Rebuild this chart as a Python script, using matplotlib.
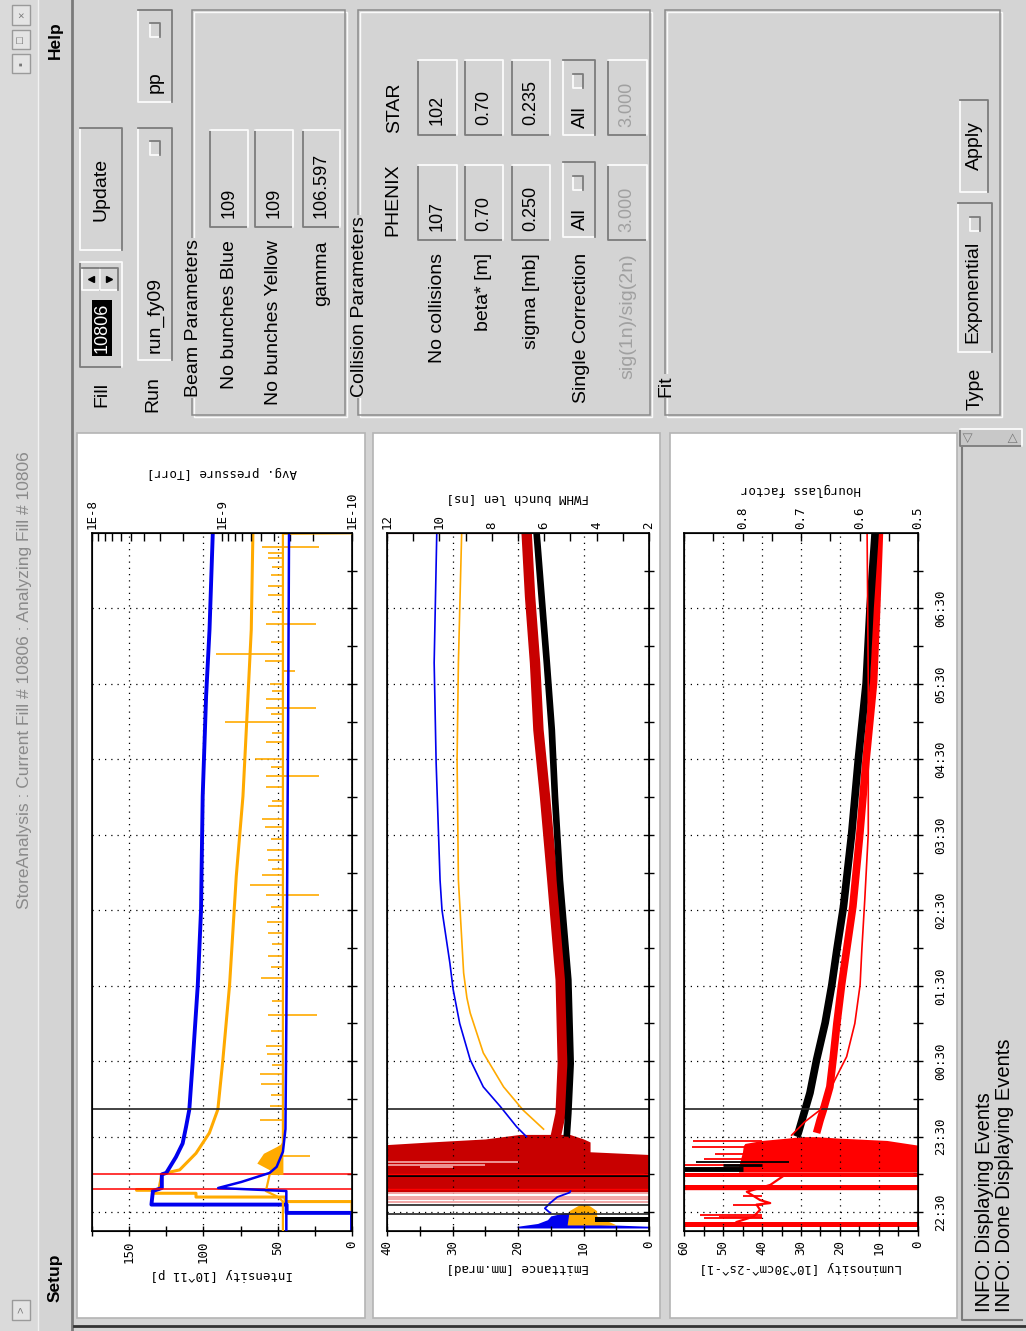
import numpy as np
import matplotlib
matplotlib.use("Agg")
import matplotlib.pyplot as plt
from matplotlib.patches import Rectangle
from matplotlib.ticker import (MultipleLocator, FixedLocator, FixedFormatter,
                               NullFormatter, LogLocator)

plt.rcParams['font.family'] = ['DejaVu Sans Mono']
GUI = ['Liberation Sans', 'DejaVu Sans']

# ---------------- data ----------------
# time in hours after 22:00, axis runs 22:15 .. 07:30
t_lim = [0.25, 9.5]
time_ticks = [0.5, 1.5, 2.5, 3.5, 4.5, 5.5, 6.5, 7.5, 8.5]
time_minor = [1, 2, 3, 4, 5, 6, 7, 8, 9]
time_labels = ['22:30', '23:30', '00:30', '01:30', '02:30', '03:30', '04:30', '05:30', '06:30']

black_marker = [1.87]
red_marker = [0.80, 1.01]
p2_black_marker = [0.475, 0.595]

# panel 1: intensity [10^11 p] and pressure [Torr]
blue_int_t = [0.25, 0.49, 0.49, 0.60, 0.60, 0.78, 0.82, 1.00, 1.02, 1.23, 1.41, 1.63, 1.86, 2.50, 3.51, 4.51, 4.95, 6.01, 7.34, 8.22, 9.50]
blue_int = [0, 0, 44, 44, 135, 134, 128, 128, 125, 118.5, 114, 111.7, 109.5, 107.2, 103.8, 101.6, 101.3, 100.5, 98.2, 95.9, 93.7]
orange_int_t = [0.25, 0.64, 0.64, 0.70, 0.70, 0.75, 0.75, 0.79, 0.79, 0.80, 0.80, 1.00, 1.02, 1.06, 1.28, 1.55, 1.86, 2.50, 3.51, 4.95, 6.01, 7.34, 8.22, 9.50]
orange_int = [0, 0, 45, 45, 105, 105, 133, 133, 145, 145, 130, 128, 125, 116, 105, 96, 90.3, 87, 82.4, 77.9, 73.4, 70, 67.8, 66.7]

blue_p_t = [0.25, 0.78, 0.82, 0.90, 1.02, 1.10, 1.30, 1.60, 3.00, 5.00, 7.00, 9.50]
blue_p = [3.2e-10, 3.2e-10, 1.07e-9, 7.1e-10, 4.3e-10, 3.8e-10, 3.4e-10, 3.25e-10, 3.2e-10, 3.15e-10, 3.1e-10, 3.05e-10]
orange_p_t = [0.25, 0.64, 0.70, 0.78, 0.85, 1.00, 1.42, 3.00, 6.00, 9.49, 9.50]
orange_p = [3.4e-10, 3.4e-10, 3.7e-10, 4.6e-10, 4.5e-10, 4.3e-10, 3.4e-10, 3.4e-10, 3.4e-10, 3.4e-10, 6e-11]
orange_p_base = 3.4e-10
orange_blob_t = [1.00, 1.06, 1.15, 1.28, 1.37, 1.42]
orange_blob_p = [4.3e-10, 4.3e-10, 5.4e-10, 4.8e-10, 3.8e-10, 3.4e-10]
orange_spike_t = [9.32, 9.32, 9.24, 9.17, 9.05, 8.95, 8.80, 8.68, 8.45, 8.30, 8.30, 8.05, 7.90, 7.80,
                  7.67, 7.50, 7.40, 7.30, 7.18, 7.18, 7.10, 7.00, 6.85, 6.73, 6.51, 6.40, 6.28, 6.28,
                  6.14, 5.95, 5.88, 5.71, 5.60, 5.45, 5.30, 5.17, 5.05, 4.97, 4.84, 4.70, 4.70, 4.55,
                  4.35, 4.20, 4.05, 3.90, 3.75, 3.60, 3.30, 3.11, 3.11, 2.90, 2.70, 2.60, 2.45, 2.33,
                  2.20, 2.05, 1.90, 1.72, 1.24]
orange_spike_p = [4.95e-10, 1.8e-10, 4.4e-10, 4.4e-10, 4.1e-10, 4.2e-10, 4.4e-10, 4.4e-10, 4.1e-10, 4.6e-10, 1.9e-10, 4.2e-10, 1.12e-9, 4.7e-10,
                  2.75e-10, 4.3e-10, 4.1e-10, 4.6e-10, 4.6e-10, 1.9e-10, 4.2e-10, 9.5e-10, 4.1e-10, 4.6e-10, 5.6e-10, 4.2e-10, 4.6e-10, 1.78e-10,
                  4.6e-10, 4.1e-10, 4.4e-10, 4.95e-10, 4.7e-10, 4.2e-10, 4.5e-10, 4.4e-10, 4.1e-10, 4.95e-10, 6.1e-10, 4.6e-10, 1.78e-10, 4.2e-10,
                  4.5e-10, 4.4e-10, 4.1e-10, 4.4e-10, 4.2e-10, 5.0e-10, 4.1e-10, 4.4e-10, 1.86e-10, 4.2e-10, 4.6e-10, 4.5e-10, 4.1e-10, 5.1e-10,
                  5.0e-10, 4.2e-10, 4.3e-10, 5.1e-10, 2.1e-10]
p_ticks = [1e-8, 1e-9, 1e-10]
p_labels = ['1E-8', '1E-9', '1E-10']

# panel 2: emittance [mm.mrad] and FWHM bunch length [ns]
blue_emit_t = [1.50, 1.63, 1.90, 2.16, 2.52, 3.00, 3.45, 3.80, 4.50, 4.90, 6.46, 7.78, 9.50]
blue_emit = [18.7, 20.2, 22.7, 25.3, 27.3, 28.9, 29.9, 30.4, 31.6, 31.9, 32.5, 32.8, 32.4]
orange_emit_t = [1.60, 1.85, 2.16, 2.61, 3.14, 3.34, 3.67, 4.90, 6.50, 7.78, 9.50]
orange_emit = [16.1, 19.2, 22.2, 25.3, 27.3, 27.8, 28.3, 29.1, 29.3, 29.1, 28.6]
blue_emit_inj_t = [0.49, 0.55, 0.62, 0.70, 0.76, 0.78]
blue_emit_inj = [15.1, 15.9, 15.1, 14.0, 12.1, 12.0]
fwhm_t = [1.50, 1.81, 2.47, 3.58, 4.90, 6.01, 6.89, 7.78, 8.66, 9.50]
black_fwhm = [5.14, 5.08, 4.99, 5.08, 5.40, 5.59, 5.71, 5.90, 6.10, 6.29]
red_fwhm = [5.56, 5.37, 5.29, 5.37, 5.69, 5.97, 6.22, 6.35, 6.54, 6.67]
red_fwhm_tail_t = [9.5, 9.5]
red_fwhm_tail = [6.9, 12.5]

inj2_red_t = [0.77, 1.26, 1.30, 1.39, 1.43, 1.47, 1.53]
inj2_red_hi = [41, 41, 41, 41, 33.4, 25, 19.7]
inj2_red_lo = [-1, -1, 9, 9, 9, 10, 12.1]
inj2_light_t = [1.17, 1.12, 1.10, 0.75, 0.70, 0.68, 0.63]
inj2_light_hi = [41, 41, 35, 41, 41, 41, 41]
inj2_light_lo = [20, 25, 30, -1, -1, -1, -1]
inj2_black_t = [0.97, 1.01]
blue_blk_t = [0.29, 0.31, 0.35, 0.40, 0.45, 0.49]
blue_blk_hi = [19.8, 20.3, 17, 15.5, 15, 13]
blue_blk_lo = [-1, -1, 12, 12, 12, 12]
orange_blk_t = [0.33, 0.45, 0.52, 0.58, 0.60]
orange_blk_hi = [12.5, 12.3, 12.2, 11, 10.5]
orange_blk_lo = [5, 8, 8, 9, 9.5]
black_blk_t = [0.37, 0.43]
black_blk_hi = [8.3, 8.3]

# panel 3: luminosity [10^30 cm^-2 s^-1] and hourglass factor
black_lumi_t = [1.50, 1.55, 1.85, 2.08, 2.52, 3.01, 3.51, 3.98, 4.55, 5.52, 6.50, 7.51, 8.51, 9.50]
black_lumi = [31.1, 30.7, 29.0, 27.7, 26.0, 23.8, 22.1, 20.8, 19.1, 17.0, 15.3, 13.3, 12.3, 11.0]
red_lumi_t = [1.55, 1.72, 1.85, 2.16, 2.56, 3.00, 3.51, 3.98, 4.55, 5.52, 6.50, 7.51, 8.51, 9.50]
red_lumi = [26.0, 25.1, 24.3, 22.6, 21.7, 20.8, 19.6, 18.3, 16.7, 14.9, 13.3, 11.4, 10.6, 9.9]
hg_red_t = [1.52, 1.70, 1.85, 2.08, 2.30, 2.56, 3.00, 3.51, 3.98, 4.64, 5.52, 6.50, 7.51, 9.50]
hg_red = [0.716, 0.693, 0.668, 0.653, 0.639, 0.622, 0.608, 0.599, 0.596, 0.591, 0.585, 0.585, 0.585, 0.587]

inj3_red_t = [1.03, 1.10, 1.20, 1.30, 1.38, 1.41, 1.45, 1.48, 1.50]
inj3_red_hi = [46, 46, 45.5, 45, 44.8, 44.4, 40, 33.7, 30]
inj3_red_lo = [-1, -1, -1, -1, -1, 2.9, 8, 20, 26]
inj3_spike_t = [1.44, 1.36, 1.27, 1.20, 1.12, 1.08, 0.72, 0.60, 0.46, 0.43, 0.42]
inj3_spike = [57.6, 58, 52, 55, 60.5, 52, 45, 47.5, 56, 51, 55]
inj3_bar_lo = [0.97, 0.79, 0.30]
inj3_bar_hi = [1.02, 0.86, 0.37]
inj3_curve_t = [0.37, 0.44, 0.53, 0.60, 0.62, 0.66, 0.77, 0.86, 0.98]
inj3_curve = [46.5, 42.2, 40.5, 41.4, 37.9, 40.5, 43.9, 37.9, 34.5]
inj3_black_t = [1.07, 1.16, 1.13]
inj3_black_hi = [61, 57, 50]
inj3_black_lo = [44.9, 33, 40]

# GUI contents
title = 'StoreAnalysis : Current Fill # 10806 : Analyzing Fill # 10806'
fill_no = '10806'
run_name = 'run_fy09'
species = 'pp'
beam_labels = ['No bunches Blue', 'No bunches Yellow', 'gamma']
beam_values = ['109', '109', '106.597']
experiments = ['PHENIX', 'STAR']
coll_labels = ['No collisions', 'beta* [m]', 'sigma [mb]']
phenix_values = ['107', '0.70', '0.250']
star_values = ['102', '0.70', '0.235']
corr_values = ['All', 'All']
sig_ratio = ['3.000', '3.000']
fit_type = 'Exponential'
log_lines = ['INFO: Displaying Events', 'INFO: Done Displaying Events']

BLUE = '#0000ee'
ORANGE = '#ffaa00'
RED = '#ff0000'
DRED = '#c80000'
GRAY = '#d4d4d4'

W, H = 1026, 1331


def frac(x0, y0, x1, y1):
    return [x0 / W, 1 - y1 / H, (x1 - x0) / W, (y1 - y0) / H]


fig = plt.figure(figsize=(W / 100, H / 100), dpi=100)
bg = fig.add_axes([0, 0, 1, 1])
bg.set_xlim(0, W)
bg.set_ylim(H, 0)
bg.axis('off')
bg.add_patch(Rectangle((0, 0), W, H, facecolor=GRAY, edgecolor='none'))


def vtext(x, y, s, va='center', size=14, color='k', weight='normal', **kw):
    bg.text(x, y, s, rotation=90, ha='center', va=va, fontsize=size, color=color,
            fontweight=weight, family=GUI, **kw)


def bevel(x0, y0, x1, y1, sunken=True, face=GRAY):
    bg.add_patch(Rectangle((x0, y0), x1 - x0, y1 - y0, facecolor=face, edgecolor='none'))
    dark, light = ('#7c7c7c', '#fbfbfb') if sunken else ('#fbfbfb', '#7c7c7c')
    bg.plot([x0, x0, x1], [y0, y1, y1], color=dark, lw=1.3)
    bg.plot([x0, x1, x1], [y0, y0, y1], color=light, lw=1.3)


def indicator(x, y):
    bevel(x - 5, y - 7, x + 5, y + 7, sunken=False)


def frame(x0, y0, x1, y1, label, ly):
    bg.add_patch(Rectangle((x0 + 1.5, y0 + 1.5), x1 - x0, y1 - y0, fill=False, edgecolor='#fafafa', lw=1))
    bg.add_patch(Rectangle((x0, y0), x1 - x0, y1 - y0, fill=False, edgecolor='#8c8c8c', lw=1.1))
    vtext(x0 + 1, ly, label, va='bottom', bbox=dict(facecolor=GRAY, edgecolor='none', pad=1))


# title bar and menu
bg.add_patch(Rectangle((0, 0), 38, H, facecolor='#dadada', edgecolor='none'))
bg.plot([38, 38], [0, H], color='#f2f2f2', lw=1)
bg.plot([72, 72], [0, H], color='#7a7a7a', lw=2)
vtext(25, 680, title, size=12.5, color='#8a8a8a')
for (y0, y1), sym in zip([(5, 25), (30, 49), (54, 73), (1300, 1320)], ['×', '□', '▪', '>']):
    bg.add_patch(Rectangle((12, y0), 18, y1 - y0, facecolor='#e4e4e4', edgecolor='#9a9a9a', lw=1))
    vtext(21, (y0 + y1) / 2, sym, size=8, color='#777777')
vtext(55, 1278, 'Setup', size=12.5, weight='bold')
vtext(55, 40, 'Help', size=12.5, weight='bold')

# fill / run row
vtext(102, 407, 'Fill', va='bottom')
bevel(80, 262, 122, 367)
bg.add_patch(Rectangle((92, 300), 20, 56, facecolor='black', edgecolor='none'))
vtext(102, 328, fill_no, color='white', size=13)
bevel(82, 268, 100, 290, sunken=False)
bevel(100, 268, 118, 290, sunken=False)
bg.plot([91], [279], marker='<', color='k', ms=5)
bg.plot([109], [279], marker='>', color='k', ms=5)
bevel(80, 128, 122, 250, sunken=False)
vtext(101, 189, 'Update')
vtext(153, 412, 'Run', va='bottom')
bevel(138, 128, 172, 360, sunken=False)
vtext(155, 353, run_name, va='bottom')
indicator(155, 148)
bevel(138, 10, 172, 102, sunken=False)
vtext(155, 93, species, va='bottom')
indicator(155, 30)

# beam parameters
frame(192, 10, 345, 415, 'Beam Parameters', 397)
for (x0, x1), lab, val in zip([(210, 248), (255, 293), (303, 340)], beam_labels, beam_values):
    xc = (x0 + x1) / 2
    vtext(xc, 240, lab, va='top')
    bevel(x0, 130, x1, 227)
    vtext(xc, 218, val, va='bottom', size=13)

# collision parameters
frame(358, 10, 650, 415, 'Collision Parameters', 397)
vtext(393, 200, experiments[0])
vtext(395, 108, experiments[1])
for (x0, x1), lab, pv, sv in zip([(418, 457), (465, 503), (512, 550)], coll_labels, phenix_values, star_values):
    xc = (x0 + x1) / 2
    vtext(xc, 253, lab, va='top')
    bevel(x0, 165, x1, 240)
    vtext(xc, 231, pv, va='bottom', size=13)
    bevel(x0, 60, x1, 135)
    vtext(xc, 125, sv, va='bottom', size=13)
vtext(581, 253, 'Single Correction', va='top')
for (y0, y1), val in zip([(162, 237), (60, 135)], corr_values):
    bevel(563, y0, 595, y1, sunken=False)
    vtext(580, y1 - 7, val, va='bottom')
    indicator(578, y0 + 21)
vtext(628, 253, 'sig(1n)/sig(2n)', va='top', color='#a0a0a0')
for (y0, y1), val in zip([(165, 240), (60, 135)], sig_ratio):
    bevel(608, y0, 647, y1)
    vtext(627, y1 - 8, val, va='bottom', size=13, color='#a0a0a0')

# fit
frame(665, 10, 1000, 415, 'Fit', 397)
vtext(975, 410, 'Type', va='bottom')
bevel(958, 203, 992, 352, sunken=False)
vtext(973, 343, fit_type, va='bottom')
indicator(975, 224)
bevel(960, 100, 988, 192, sunken=False)
vtext(974, 146, 'Apply')

# log window
bevel(960, 429, 1022, 446, face='#c8c8c8')
vtext(968, 437, '◁', size=9, color='#777777')
vtext(1013, 437, '▷', size=9, color='#777777')
bg.add_patch(Rectangle((962, 448), 60, 872, facecolor=GRAY, edgecolor='none'))
bg.plot([962, 962, 1022], [448, 1320, 1320], color='#7c7c7c', lw=1.5)
for x, line in zip([985, 1004], log_lines):
    vtext(x, 1312, line, va='bottom', size=14.5)
bg.plot([74, W], [1326, 1326], color='#333333', lw=2)

# white plot pads
for x0, x1 in [(77, 365), (373, 660), (670, 957)]:
    bg.add_patch(Rectangle((x0, 433), x1 - x0, 885, facecolor='white', edgecolor='#b4b4b4', lw=1.2))


def time_axis(ax, labels):
    ax.set_ylim(*t_lim)
    ax.yaxis.tick_right()
    ax.yaxis.set_major_locator(FixedLocator(time_ticks))
    ax.yaxis.set_minor_locator(FixedLocator(time_minor))
    if labels:
        ax.yaxis.set_major_formatter(FixedFormatter(time_labels))
    else:
        ax.yaxis.set_major_formatter(NullFormatter())
    ax.tick_params(axis='y', which='both', direction='inout', length=7, width=1,
                   labelsize=9, pad=8, labelrotation=90)
    plt.setp(ax.get_yticklabels(), va='center')
    ax.grid(True, which='major', color='k', lw=0.9, ls=(0, (1, 4)))
    for sp in ax.spines.values():
        sp.set_linewidth(1.2)


def value_axis(ax, lim, major, minor, label, ly):
    ax.set_xlim(*lim)
    ax.xaxis.set_major_locator(MultipleLocator(major))
    ax.xaxis.set_minor_locator(MultipleLocator(minor))
    ax.tick_params(axis='x', which='both', direction='inout', length=7, width=1,
                   labelsize=9, pad=3, labelrotation=90)
    ax.set_xlabel(label, rotation=180, fontsize=9)
    ax.xaxis.set_label_coords(0.5, ly)
    ax.xaxis.label.set_va('center')


def top_axis(ax, label, ly):
    ax.tick_params(axis='x', which='both', direction='in', length=6, width=1,
                   labelsize=9, pad=3, labelrotation=90)
    ax.set_xlabel(label, rotation=180, fontsize=9)
    ax.xaxis.set_label_coords(0.5, ly)
    ax.xaxis.label.set_va('center')


# ---- panel 1: intensity / pressure ----
ax1 = fig.add_axes(frac(92, 533, 352, 1231))
value_axis(ax1, (175, 0), 50, 25, 'Intensity [10^11 p]', -0.063)
time_axis(ax1, False)
ax1.plot(orange_int, orange_int_t, color=ORANGE, lw=2.2)
ax1.plot(blue_int, blue_int_t, color=BLUE, lw=2.8)
for t in red_marker:
    ax1.axhline(t, color=RED, lw=1.1)
for t in black_marker:
    ax1.axhline(t, color='#222222', lw=1.2)

ax1p = ax1.twiny()
ax1p.set_xscale('log')
ax1p.set_xlim(1e-8, 1e-10)
ax1p.xaxis.set_major_locator(FixedLocator(p_ticks))
ax1p.xaxis.set_major_formatter(FixedFormatter(p_labels))
ax1p.xaxis.set_minor_locator(LogLocator(base=10, subs=np.arange(2, 10), numticks=20))
ax1p.xaxis.set_minor_formatter(NullFormatter())
top_axis(ax1p, 'Avg. pressure [Torr]', 1.086)
ax1p.fill_betweenx(orange_blob_t, orange_p_base, orange_blob_p, color=ORANGE, lw=0)
ax1p.hlines(orange_spike_t, orange_p_base, orange_spike_p, color=ORANGE, lw=1.2)
ax1p.plot(orange_p, orange_p_t, color=ORANGE, lw=1.6)
ax1p.plot(blue_p, blue_p_t, color=BLUE, lw=1.8)

# ---- panel 2: emittance / bunch length ----
ax2 = fig.add_axes(frac(387, 533, 649, 1231))
value_axis(ax2, (40, 0), 10, 5, 'Emittance [mm.mrad]', -0.053)
time_axis(ax2, False)
ax2.fill_betweenx(inj2_red_t, inj2_red_lo, inj2_red_hi, color=DRED, lw=0)
ax2.hlines(inj2_light_t, inj2_light_lo, inj2_light_hi, color='#f0a0a0', lw=1.3)
ax2.fill_betweenx(inj2_black_t, -1, 41, color='black', lw=0)
ax2.fill_betweenx(blue_blk_t, blue_blk_lo, blue_blk_hi, color=BLUE, lw=0)
ax2.fill_betweenx(orange_blk_t, orange_blk_lo, orange_blk_hi, color=ORANGE, lw=0)
ax2.fill_betweenx(black_blk_t, -1, black_blk_hi, color='black', lw=0)
ax2.plot(blue_emit_inj, blue_emit_inj_t, color=BLUE, lw=1.3)
ax2.plot(orange_emit, orange_emit_t, color=ORANGE, lw=1.2)
ax2.plot(blue_emit, blue_emit_t, color=BLUE, lw=1.2)
for t in red_marker:
    ax2.axhline(t, color=RED, lw=1.0)
for t in black_marker + p2_black_marker:
    ax2.axhline(t, color='#222222', lw=1.2)

ax2f = ax2.twiny()
ax2f.set_xlim(12, 2)
ax2f.xaxis.set_major_locator(MultipleLocator(2))
ax2f.xaxis.set_minor_locator(MultipleLocator(1))
top_axis(ax2f, 'FWHM bunch len [ns]', 1.05)
ax2f.plot(red_fwhm, fwhm_t, color=DRED, lw=7.5, solid_capstyle='butt')
ax2f.plot(black_fwhm, fwhm_t, color='black', lw=4.8, solid_capstyle='butt')
ax2f.plot(red_fwhm_tail, red_fwhm_tail_t, color=RED, lw=1.5)

# ---- panel 3: luminosity / hourglass ----
ax3 = fig.add_axes(frac(684, 533, 918, 1231))
value_axis(ax3, (60, 0), 10, 5, 'Luminosity [10^30cm^-2s^-1]', -0.053)
time_axis(ax3, True)
ax3.fill_betweenx(inj3_red_t, inj3_red_lo, inj3_red_hi, color=RED, lw=0)
for lo, hi in zip(inj3_bar_lo, inj3_bar_hi):
    ax3.axhspan(lo, hi, color=RED, lw=0)
ax3.hlines(inj3_spike_t, 40, inj3_spike, color=RED, lw=1.3)
ax3.plot(inj3_curve, inj3_curve_t, color=RED, lw=1.6)
ax3.plot(red_lumi, red_lumi_t, color=RED, lw=5.5, solid_capstyle='butt')
ax3.plot(black_lumi, black_lumi_t, color='black', lw=5.5, solid_capstyle='butt')
for t, lo, hi, w in zip(inj3_black_t, inj3_black_lo, inj3_black_hi, [3.5, 1.3, 2.0]):
    ax3.hlines(t, lo, hi, color='black', lw=w)
for t in red_marker:
    ax3.axhline(t, color=RED, lw=1.0)
for t in black_marker:
    ax3.axhline(t, color='#222222', lw=1.2)

ax3h = ax3.twiny()
ax3h.set_xlim(0.9, 0.5)
ax3h.xaxis.set_major_locator(FixedLocator([0.5, 0.6, 0.7, 0.8]))
ax3h.xaxis.set_minor_locator(MultipleLocator(0.05))
top_axis(ax3h, 'Hourglass factor', 1.062)
ax3h.plot(hg_red, hg_red_t, color=RED, lw=1.2)

fig.savefig('out.png', dpi=100)
